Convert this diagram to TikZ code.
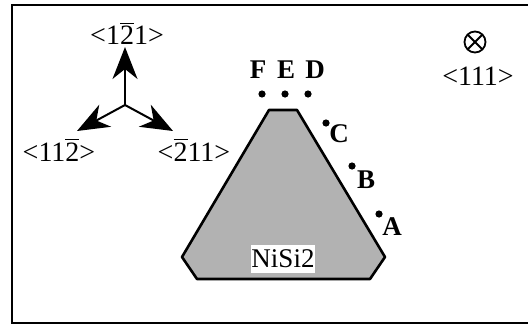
\documentclass[tikz,border=0pt]{standalone}
\usepackage{fontspec}
\setmainfont{Liberation Serif}
\usetikzlibrary{arrows.meta}
\newcommand{\ob}[1]{$\overline{\mbox{#1}}$}
\begin{document}
\begin{tikzpicture}[x=0.5pt,y=-0.5pt,
  frame/.style={line width=1pt},
  axarrow/.style={line width=1pt,-{Stealth[length=16pt,width=12.5pt,inset=5pt]}},
  idx/.style={font=\fontsize{14}{14}\selectfont,inner sep=0pt,anchor=base},
  letter/.style={font=\fontsize{13.5}{13.5}\selectfont\bfseries,inner sep=0pt,anchor=base},
  dotnode/.style={circle,fill=black,inner sep=0pt,minimum size=3.6pt},
  crystal/.style={draw=black,line width=1.3pt,fill=black!30,line join=round}]
\useasboundingbox (0,0) rectangle (528,326);
\clip (0,0) rectangle (528,326);
% frame
\draw[frame] (12,5) rectangle (600,323);
% axes
\coordinate (o) at (125,105);
\coordinate (tu) at (125,47);
\coordinate (tl) at (77,131);
\coordinate (tr) at (173,131);
\draw[axarrow] (o) -- (tu);
\draw[axarrow] (o) -- (tl);
\draw[axarrow] (o) -- (tr);
\node[idx] (lu) at (127,45) {<1\ob{2}1>};
\node[idx] (ll) at (59,161) {<11\ob{2}>};
\node[idx] (lr) at (194,161) {<\ob{2}11>};
% view direction
\node[circle,draw,line width=0.9pt,minimum size=10.5pt,inner sep=0pt,
  path picture={\draw[line width=0.9pt] (path picture bounding box.north west)--(path picture bounding box.south east)
  (path picture bounding box.north east)--(path picture bounding box.south west);}] (vd) at (475,42) {};
\node[idx] (l111) at (478,85) {<111>};
% crystal
\draw[crystal] (269,110) -- (297,110) -- (385,257) -- (370,279) -- (197,279) -- (182,257) -- cycle;
\node[fill=white,inner sep=0pt,minimum width=29.5pt,minimum height=14pt,
  font=\fontsize{13.5}{13.5}\selectfont] (nisi) at (283,259) {NiSi2};
% dots
\node[dotnode] (dF) at (262,94) {};
\node[dotnode] (dE) at (285,94) {};
\node[dotnode] (dD) at (308,94) {};
\node[dotnode] (dC) at (326,123) {};
\node[dotnode] (dB) at (352,166) {};
\node[dotnode] (dA) at (379,214) {};
\node[letter] (F) at (258,78) {F};
\node[letter] (E) at (286,78) {E};
\node[letter] (D) at (315,78) {D};
\node[letter] (C) at (339,142) {C};
\node[letter] (B) at (366,188) {B};
\node[letter] (A) at (392,235) {A};
\end{tikzpicture}
\end{document}
